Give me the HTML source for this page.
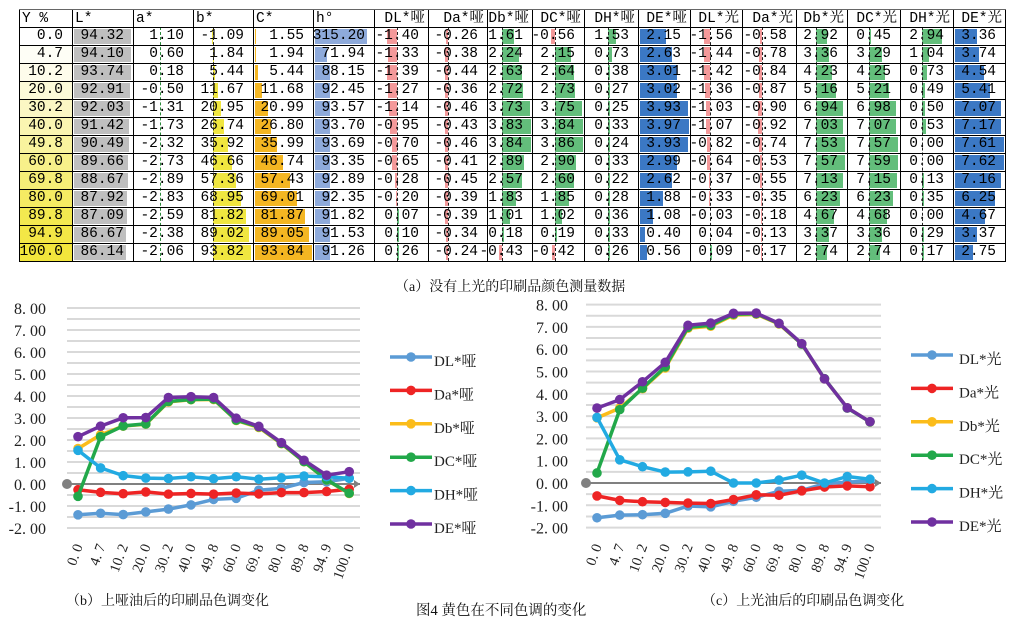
<!DOCTYPE html>
<html><head><meta charset="utf-8">
<style>
body{margin:0;background:#fff;width:1020px;height:628px;overflow:hidden;position:relative;font-family:"Liberation Mono","Noto Serif CJK SC",monospace;}
.c{position:absolute;box-sizing:border-box;}
.t{position:absolute;font-size:14.5px;line-height:18px;white-space:nowrap;color:#000;}
.cap{position:absolute;font-family:"Liberation Serif","Noto Serif CJK SC",serif;font-size:14px;white-space:nowrap;color:#111;}
svg text{font-family:"Liberation Serif","Noto Serif CJK SC",serif;}
</style></head><body>
<div id="tbl"></div>
<div class="cap" style="left:395px;top:276px;">（a）没有上光的印刷品颜色测量数据</div>
<div class="cap" style="left:66px;top:590px;">（b）上哑油后的印刷品色调变化</div>
<div class="cap" style="left:416px;top:599px;font-size:14.5px;">图4 黄色在不同色调的变化</div>
<div class="cap" style="left:702px;top:590px;">（c）上光油后的印刷品色调变化</div>
<svg id="sv" width="1020" height="628" style="position:absolute;left:0;top:0"></svg>
<script>
(function(){
var Y=[0.0,4.7,10.2,20.0,30.2,40.0,49.8,60.0,69.8,80.0,89.8,94.9,100.0];
var L=[94.32,94.10,93.74,92.91,92.03,91.42,90.49,89.66,88.67,87.92,87.09,86.67,86.14];
var A=[1.10,0.60,0.18,-0.50,-1.31,-1.73,-2.32,-2.73,-2.89,-2.83,-2.59,-2.38,-2.06];
var B=[-1.09,1.84,5.44,11.67,20.95,26.74,35.92,46.66,57.36,68.95,81.82,89.02,93.82];
var C=[1.55,1.94,5.44,11.68,20.99,26.80,35.99,46.74,57.43,69.01,81.87,89.05,93.84];
var H=[315.20,71.94,88.15,92.45,93.57,93.70,93.69,93.35,92.89,92.35,91.82,91.53,91.26];
var m={DL:[-1.40,-1.33,-1.39,-1.27,-1.14,-0.95,-0.70,-0.65,-0.28,-0.20,0.07,0.10,0.26],
Da:[-0.26,-0.38,-0.44,-0.36,-0.46,-0.43,-0.46,-0.41,-0.45,-0.39,-0.39,-0.34,-0.24],
Db:[1.61,2.24,2.63,2.72,3.73,3.83,3.84,2.89,2.57,1.83,1.01,0.18,-0.43],
DC:[-0.56,2.15,2.64,2.73,3.75,3.84,3.86,2.90,2.60,1.85,1.02,0.19,-0.42],
DH:[1.53,0.73,0.38,0.27,0.25,0.33,0.24,0.33,0.22,0.28,0.36,0.33,0.26],
DE:[2.15,2.63,3.01,3.02,3.93,3.97,3.93,2.99,2.62,1.88,1.08,0.40,0.56]};
var g={DL:[-1.56,-1.44,-1.42,-1.36,-1.03,-1.07,-0.82,-0.64,-0.37,-0.33,-0.03,0.04,0.09],
Da:[-0.58,-0.78,-0.84,-0.87,-0.90,-0.92,-0.74,-0.53,-0.55,-0.35,-0.18,-0.13,-0.17],
Db:[2.92,3.36,4.23,5.16,6.94,7.03,7.53,7.57,7.13,6.23,4.67,3.37,2.74],
DC:[0.45,3.29,4.25,5.21,6.98,7.07,7.57,7.59,7.15,6.23,4.68,3.36,2.74],
DH:[2.94,1.04,0.73,0.49,0.50,0.53,0.00,0.00,0.13,0.35,0.00,0.29,0.17],
DE:[3.36,3.74,4.54,5.41,7.07,7.17,7.61,7.62,7.16,6.25,4.67,3.37,2.75]};
var cols=[
[19,72,"Y %",Y,"y",0],[72,133,"L*",L,"fill","#bfbfbf",0.605],[133,193,"a*",A,"axis",160,0,"#2a8a3a"],
[193,253,"b*",B,"axisbar",213,0.405,"#f0e640"],[253,313,"C*",C,"fill","#f4b622",0.607],[313,374,"h°",H,"fill","#8eaadb",0.165],
[374,428,"DL*哑",m.DL,"axis",397,7],[428,487,"Da*哑",m.Da,"axis",448,7],[487,532,"Db*哑",m.Db,"axis",502,7.6],
[532,584,"DC*哑",m.DC,"axis",555,7.3],[584,638,"DH*哑",m.DH,"axis",608,5.5],[638,690,"DE*哑",m.DE,"fill","#3b78c4",12.3],
[690,742,"DL*光",g.DL,"axis",710,4],[742,796,"Da*光",g.Da,"axis",762,4],[796,847,"Db*光",g.Db,"axis",816,3.85],
[847,900,"DC*光",g.DC,"axis",869,3.85],[900,953,"DH*光",g.DH,"axis",922,6.8],[953,1005,"DE*光",g.DE,"fill","#3b78c4",6.45]];
var h='';var T=9,HH=18,RH=18;
function rowTop(i){return T+HH+RH*i;}
var bottom=rowTop(13);
cols.forEach(function(c,ci){
 var l=c[0],r=c[1];
 var left=ci<6;
 h+='<div class="t" style="top:'+(T+1)+'px;'+(left?'left:'+(l+3)+'px':'right:'+(1020-r+3)+'px')+'">'+c[2]+'</div>';
 for(var i=0;i<13;i++){
  var v=c[3][i],t=rowTop(i),w;
  if(c[4]=="y"){var f=v/100;var col='rgb('+Math.round(255-13*f)+','+Math.round(255-25*f)+','+Math.round(255-195*f)+')';
   h+='<div class="c" style="left:'+l+'px;top:'+t+'px;width:'+(r-l)+'px;height:'+RH+'px;background:'+col+'"></div>';}
  if(c[4]=="fill"){w=Math.max(1,Math.abs(v)*c[6]);h+='<div class="c" style="left:'+(l+2)+'px;top:'+(t+2)+'px;width:'+w+'px;height:'+(RH-3)+'px;background:'+c[5]+'"></div>';}
  if(c[4]=="axisbar"){w=Math.max(1,Math.abs(v)*c[6]);h+='<div class="c" style="left:'+(v>=0?c[5]:c[5]-w)+'px;top:'+(t+2)+'px;width:'+w+'px;height:'+(RH-3)+'px;background:'+c[7]+'"></div>';}
  if(c[4]=="axis"&&c[6]){w=Math.abs(v)*c[6];if(w>0.3){w=Math.max(1.5,w);
   h+='<div class="c" style="left:'+(v>=0?c[5]:c[5]-w)+'px;top:'+(t+2)+'px;width:'+w+'px;height:'+(RH-3)+'px;background:'+(v>=0?'#63be7b':'#f4999a')+'"></div>';}}
  h+='<div class="t" style="top:'+t+'px;right:'+(1020-r+9)+'px">'+v.toFixed(c[4]=="y"?1:2)+'</div>';
 }
 if(c[4]=="axis"||c[4]=="axisbar"){h+='<div class="c" style="left:'+c[5]+'px;top:'+(T+HH)+'px;width:0;height:'+(bottom-T-HH)+'px;border-left:1px dashed '+(c[7]&&c[4]=="axis"?c[7]:'#222')+'"></div>';}
 h+='<div class="c" style="left:'+l+'px;top:'+T+'px;width:0;height:'+(bottom-T)+'px;border-left:1px solid #000"></div>';
});
h+='<div class="c" style="left:1005px;top:'+T+'px;width:0;height:'+(bottom-T)+'px;border-left:1px solid #000"></div>';
h+='<div class="c" style="left:19px;top:'+T+'px;width:987px;height:0;border-top:1px solid #666"></div>';
for(var i=0;i<=13;i++){h+='<div class="c" style="left:19px;top:'+rowTop(i)+'px;width:987px;height:0;border-top:1px solid #000"></div>';}
document.getElementById('tbl').innerHTML=h;

var S='';
var colors={DL:'#5b9bd5',Da:'#ee2424',Db:'#fbbc1a',DC:'#22a84a',DH:'#22aae2',DE:'#7030a0'};
var xl=["0.0","4.7","10.2","20.0","30.2","40.0","49.8","60.0","69.8","80.0","89.8","94.9","100.0"];
function chart(d,gx0,gx1,x0,st,zero,u,labR,lx,ly,suf){
 for(var k=-4;k<=16;k++){var y=zero-k*u/2;S+='<line x1="'+gx0+'" x2="'+gx1+'" y1="'+y+'" y2="'+y+'" stroke="#d9d9d9" stroke-width="2"/>';}
 for(var k2=-2;k2<=8;k2++){var yy0=zero-k2*u;S+='<text x="'+labR+'" y="'+(yy0+6)+'" font-size="16" text-anchor="end" fill="#222">'+k2.toFixed(2).replace('.', '. ')+'</text>';}
 S+='<line x1="'+gx0+'" x2="'+gx1+'" y1="'+zero+'" y2="'+zero+'" stroke="#808080" stroke-width="2"/>';
 S+='<circle cx="'+gx0+'" cy="'+zero+'" r="5" fill="#808080"/>';
 S+='<path d="M'+(gx1-6)+' '+(zero-4)+'L'+gx1+' '+zero+'L'+(gx1-6)+' '+(zero+4)+'Z" fill="#808080"/>';
 ['DL','Da','Db','DC','DH','DE'].forEach(function(k,j){
  var p=d[k].map(function(v,i){return (x0+st*i).toFixed(1)+','+(zero-v*u).toFixed(1);});
  S+='<polyline points="'+p.join(' ')+'" fill="none" stroke="'+colors[k]+'" stroke-width="3.5" stroke-linejoin="round"/>';
  d[k].forEach(function(v,i){S+='<circle cx="'+(x0+st*i)+'" cy="'+(zero-v*u)+'" r="4.8" fill="'+colors[k]+'"/>';});
  var yy=ly+33.4*j;
  S+='<line x1="'+lx+'" x2="'+(lx+42)+'" y1="'+yy+'" y2="'+yy+'" stroke="'+colors[k]+'" stroke-width="3.5"/>';
  S+='<circle cx="'+(lx+21)+'" cy="'+yy+'" r="4.8" fill="'+colors[k]+'"/>';
  S+='<text x="'+(lx+44+(suf=='光'?4:0))+'" y="'+(yy+9)+'" font-size="15" fill="#222">'+k+'*'+suf+'</text>';
 });
 xl.forEach(function(s,i){var x=x0+st*i+5,y=546;S+='<text transform="translate('+x+','+y+') rotate(-70)" font-size="14.5" text-anchor="end" fill="#222">'+s.replace('.','. ')+'</text>';});
}
chart(m,67,360,78,22.6,484,22,46,390,357,'哑');
chart(g,586,881,597,22.75,483,22.3,568,911,355,'光');
document.getElementById('sv').innerHTML=S;
})();
</script>
</body></html>
